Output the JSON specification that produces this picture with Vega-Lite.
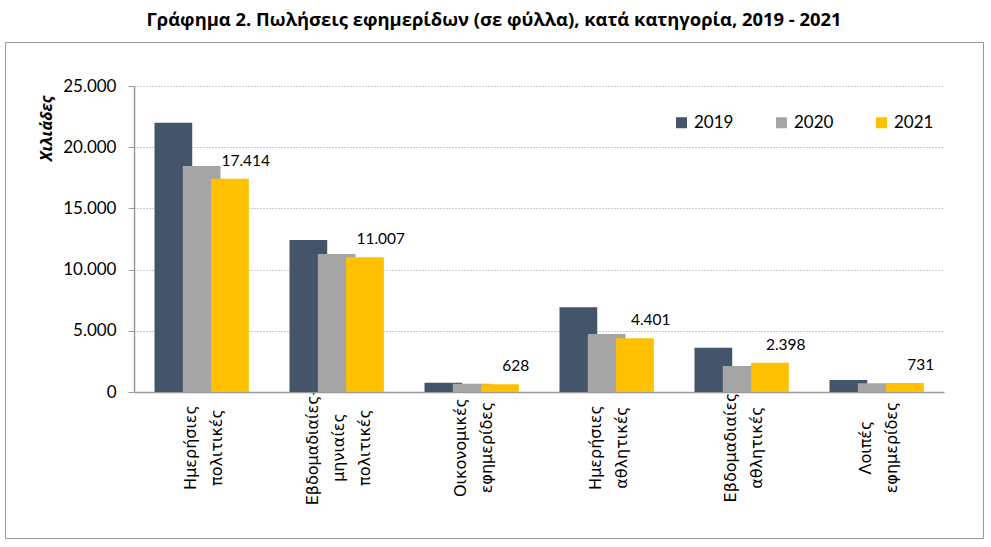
{
  "$schema": "https://vega.github.io/schema/vega-lite/v6.json",
  "autosize": "none",
  "width": 978,
  "height": 496,
  "padding": {"left": 5, "top": 42, "right": 8, "bottom": 9},
  "title": {
    "text": "Γράφημα 2. Πωλήσεις εφημερίδων (σε φύλλα), κατά κατηγορία, 2019 - 2021",
    "font": "Open Sans",
    "fontSize": 18.4,
    "fontWeight": "bold",
    "color": "#000000",
    "anchor": "middle",
    "offset": 13
  },
  "config": {
    "locale": {
      "number": {"decimal": ",", "thousands": ".", "grouping": [3], "currency": ["", " €"]}
    },
    "view": {"stroke": "#9a9a9a", "strokeWidth": 1}
  },
  "data": {
    "values": [
      {"category": "Ημερήσιες πολιτικές", "year": "2019", "value": 22000},
      {"category": "Ημερήσιες πολιτικές", "year": "2020", "value": 18460},
      {"category": "Ημερήσιες πολιτικές", "year": "2021", "value": 17414},
      {"category": "Εβδομαδιαίες-μηνιαίες πολιτικές", "year": "2019", "value": 12420},
      {"category": "Εβδομαδιαίες-μηνιαίες πολιτικές", "year": "2020", "value": 11270},
      {"category": "Εβδομαδιαίες-μηνιαίες πολιτικές", "year": "2021", "value": 11007},
      {"category": "Οικονομικές εφημερίδες", "year": "2019", "value": 760},
      {"category": "Οικονομικές εφημερίδες", "year": "2020", "value": 680},
      {"category": "Οικονομικές εφημερίδες", "year": "2021", "value": 628},
      {"category": "Ημερήσιες αθλητικές", "year": "2019", "value": 6920},
      {"category": "Ημερήσιες αθλητικές", "year": "2020", "value": 4740},
      {"category": "Ημερήσιες αθλητικές", "year": "2021", "value": 4401},
      {"category": "Εβδομαδιαίες αθλητικές", "year": "2019", "value": 3620},
      {"category": "Εβδομαδιαίες αθλητικές", "year": "2020", "value": 2120},
      {"category": "Εβδομαδιαίες αθλητικές", "year": "2021", "value": 2398},
      {"category": "Λοιπές εφημερίδες", "year": "2019", "value": 980},
      {"category": "Λοιπές εφημερίδες", "year": "2020", "value": 710},
      {"category": "Λοιπές εφημερίδες", "year": "2021", "value": 731}
    ]
  },
  "encoding": {
    "x": {
      "field": "category",
      "type": "nominal",
      "sort": null,
      "scale": {"range": [129, 939], "paddingInner": 0, "paddingOuter": 0},
      "axis": {
        "title": null,
        "offset": -146,
        "domainColor": "#999999",
        "domainWidth": 1.5,
        "ticks": false,
        "labelAngle": -90,
        "labelAlign": "center",
        "labelBaseline": "middle",
        "labelPadding": 55,
        "labelOffset": {"condition": {"test": "indexof(datum.label, '-') >= 0", "value": -24}, "value": -11},
        "labelFont": "DejaVu Sans",
        "labelFontSize": 16,
        "labelLineHeight": 26,
        "labelColor": "#000000",
        "labelLimit": 300,
        "labelExpr": "split(replace(datum.label, '-', '- '), ' ')"
      }
    },
    "xOffset": {
      "field": "year",
      "type": "nominal",
      "scale": {"paddingInner": 0, "paddingOuter": 0.885, "align": 0.858}
    },
    "y": {
      "field": "value",
      "type": "quantitative",
      "scale": {"domain": [0, 25000], "range": [350, 44], "nice": false, "zero": true},
      "axis": {
        "title": "Χιλιάδες",
        "titleFont": "Open Sans",
        "titleFontSize": 16,
        "titleFontWeight": "bold",
        "titleFontStyle": "italic",
        "titleColor": "#000000",
        "titleAngle": -90,
        "titleAlign": "center",
        "titleBaseline": "middle",
        "titleX": -88,
        "titleY": 86,
        "offset": -129,
        "values": [0, 5000, 10000, 15000, 20000, 25000],
        "format": ",d",
        "domainColor": "#999999",
        "domainWidth": 1.5,
        "tickColor": "#999999",
        "tickSize": 6,
        "labelPadding": 12,
        "labelFont": "Lato",
        "labelFontSize": 17,
        "labelColor": "#000000",
        "grid": true,
        "gridColor": "#999999",
        "gridDash": [1, 2],
        "gridWidth": 1
      }
    }
  },
  "layer": [
    {
      "mark": {"type": "bar", "width": {"band": 1.333}},
      "encoding": {
        "color": {
          "field": "year",
          "type": "nominal",
          "scale": {"domain": ["2019", "2020", "2021"], "range": ["#44546A", "#A5A5A5", "#FFC000"]},
          "legend": {
            "title": null,
            "orient": "none",
            "direction": "horizontal",
            "legendX": 668,
            "legendY": 72,
            "symbolType": "square",
            "symbolSize": 121,
            "symbolStrokeWidth": 0,
            "symbolOpacity": 1,
            "labelFont": "Lato",
            "labelFontSize": 17,
            "labelColor": "#000000",
            "labelOffset": 4,
            "columnPadding": 39
          }
        }
      }
    },
    {
      "transform": [{"filter": "datum.year == '2021'"}],
      "mark": {
        "type": "text",
        "font": "Lato",
        "fontSize": 15.5,
        "color": "#000000",
        "baseline": "middle",
        "dx": -2,
        "dy": -18
      },
      "encoding": {
        "text": {"field": "value", "type": "quantitative", "format": ",d"}
      }
    }
  ]
}
